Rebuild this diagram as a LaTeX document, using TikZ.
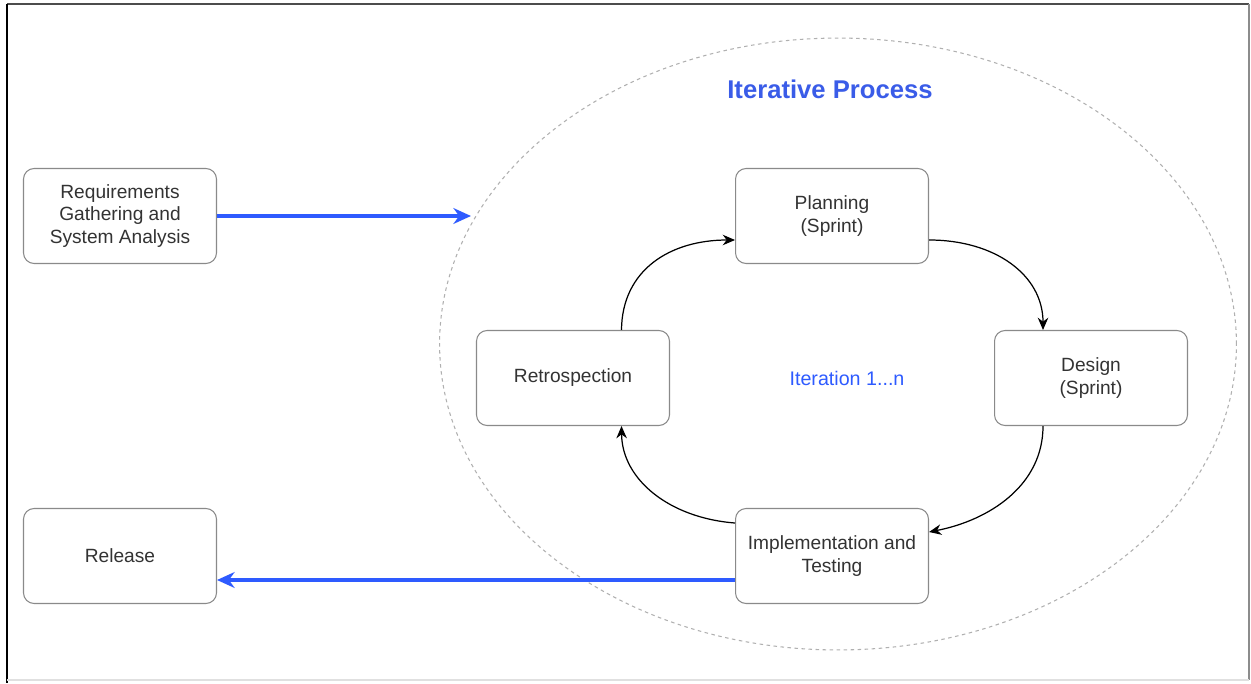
\documentclass[tikz,border=0pt]{standalone}
\usepackage{fontspec}
\setmainfont{Liberation Sans}
\usetikzlibrary{arrows.meta,shapes.geometric}
\definecolor{boxline}{HTML}{8A8A8A}
\definecolor{txt}{HTML}{333333}
\definecolor{blu}{HTML}{2E5BFF}
\definecolor{ttl}{HTML}{3A5CE8}
\definecolor{ell}{HTML}{B0B0B0}
\begin{document}
\begin{tikzpicture}[x=0.02cm,y=-0.02cm,
  box/.style={draw=boxline,line width=0.6pt,rounded corners=6pt,fill=white,
    minimum width=3.86cm,minimum height=1.9cm,align=center,
    text=txt,font=\fontsize{10.9pt}{13pt}\selectfont},
  bluearrow/.style={draw=blu,line width=2pt,-{Stealth[length=10pt,width=9pt]}},
  blackarrow/.style={draw=black,line width=0.7pt,-{Stealth[length=7pt,width=6pt]}}]
\useasboundingbox (0,0) rectangle (1251,683);
\fill[white] (0,0) rectangle (1251,683);
% frame
\draw[draw=black!70,line width=0.8pt] (1249,4) -- (7,4);
\draw[draw=black,line width=1.2pt] (7,4) -- (7,683);
\draw[draw=black!45,line width=0.6pt] (1249,4) -- (1249,680);
\draw[draw=black!12,line width=0.6pt] (7,680) -- (1249,680);
% ellipse
\node[draw=ell,line width=0.6pt,dash pattern=on 2pt off 2pt,ellipse,
  minimum width=15.94cm,minimum height=12.24cm,inner sep=0pt] (loop) at (838,344) {};
\node[text=ttl,font=\bfseries\fontsize{14.6pt}{17pt}\selectfont] (title) at (830,89) {Iterative Process};
\node[text=blu,font=\fontsize{11.2pt}{13pt}\selectfont] (iter) at (847,378) {Iteration 1...n};
% boxes
\node[box] (req) at (120,216) {Requirements\\Gathering and\\System Analysis};
\node[box] (plan) at (832,216) {Planning\\(Sprint)};
\node[box] (design) at (1091,378) {Design\\(Sprint)};
\node[box] (retro) at (573,378) {Retrospection};
\node[box] (impl) at (832,556) {Implementation and\\Testing};
\node[box] (rel) at (120,556) {Release};
% blue arrows
\coordinate (loopin) at (471,216);
\draw[bluearrow] (req.east) -- (loopin);
\draw[bluearrow] ([yshift=-0.48cm]impl.west) -- ([yshift=-0.48cm]rel.east);
% cycle
\draw[blackarrow] ([xshift=0.97cm]retro.north) .. controls (622,270) and (670,240) .. ([yshift=-0.48cm]plan.west);
\draw[blackarrow] ([yshift=-0.48cm]plan.east) .. controls (995,240) and (1043,275) .. ([xshift=-0.96cm]design.north);
\draw[blackarrow] ([xshift=-0.96cm]design.south) .. controls (1043,485) and (990,520) .. ([yshift=0.48cm]impl.east);
\draw[blackarrow] ([yshift=0.66cm]impl.west) .. controls (670,518) and (622,480) .. ([xshift=0.97cm]retro.south);
\end{tikzpicture}
\end{document}
